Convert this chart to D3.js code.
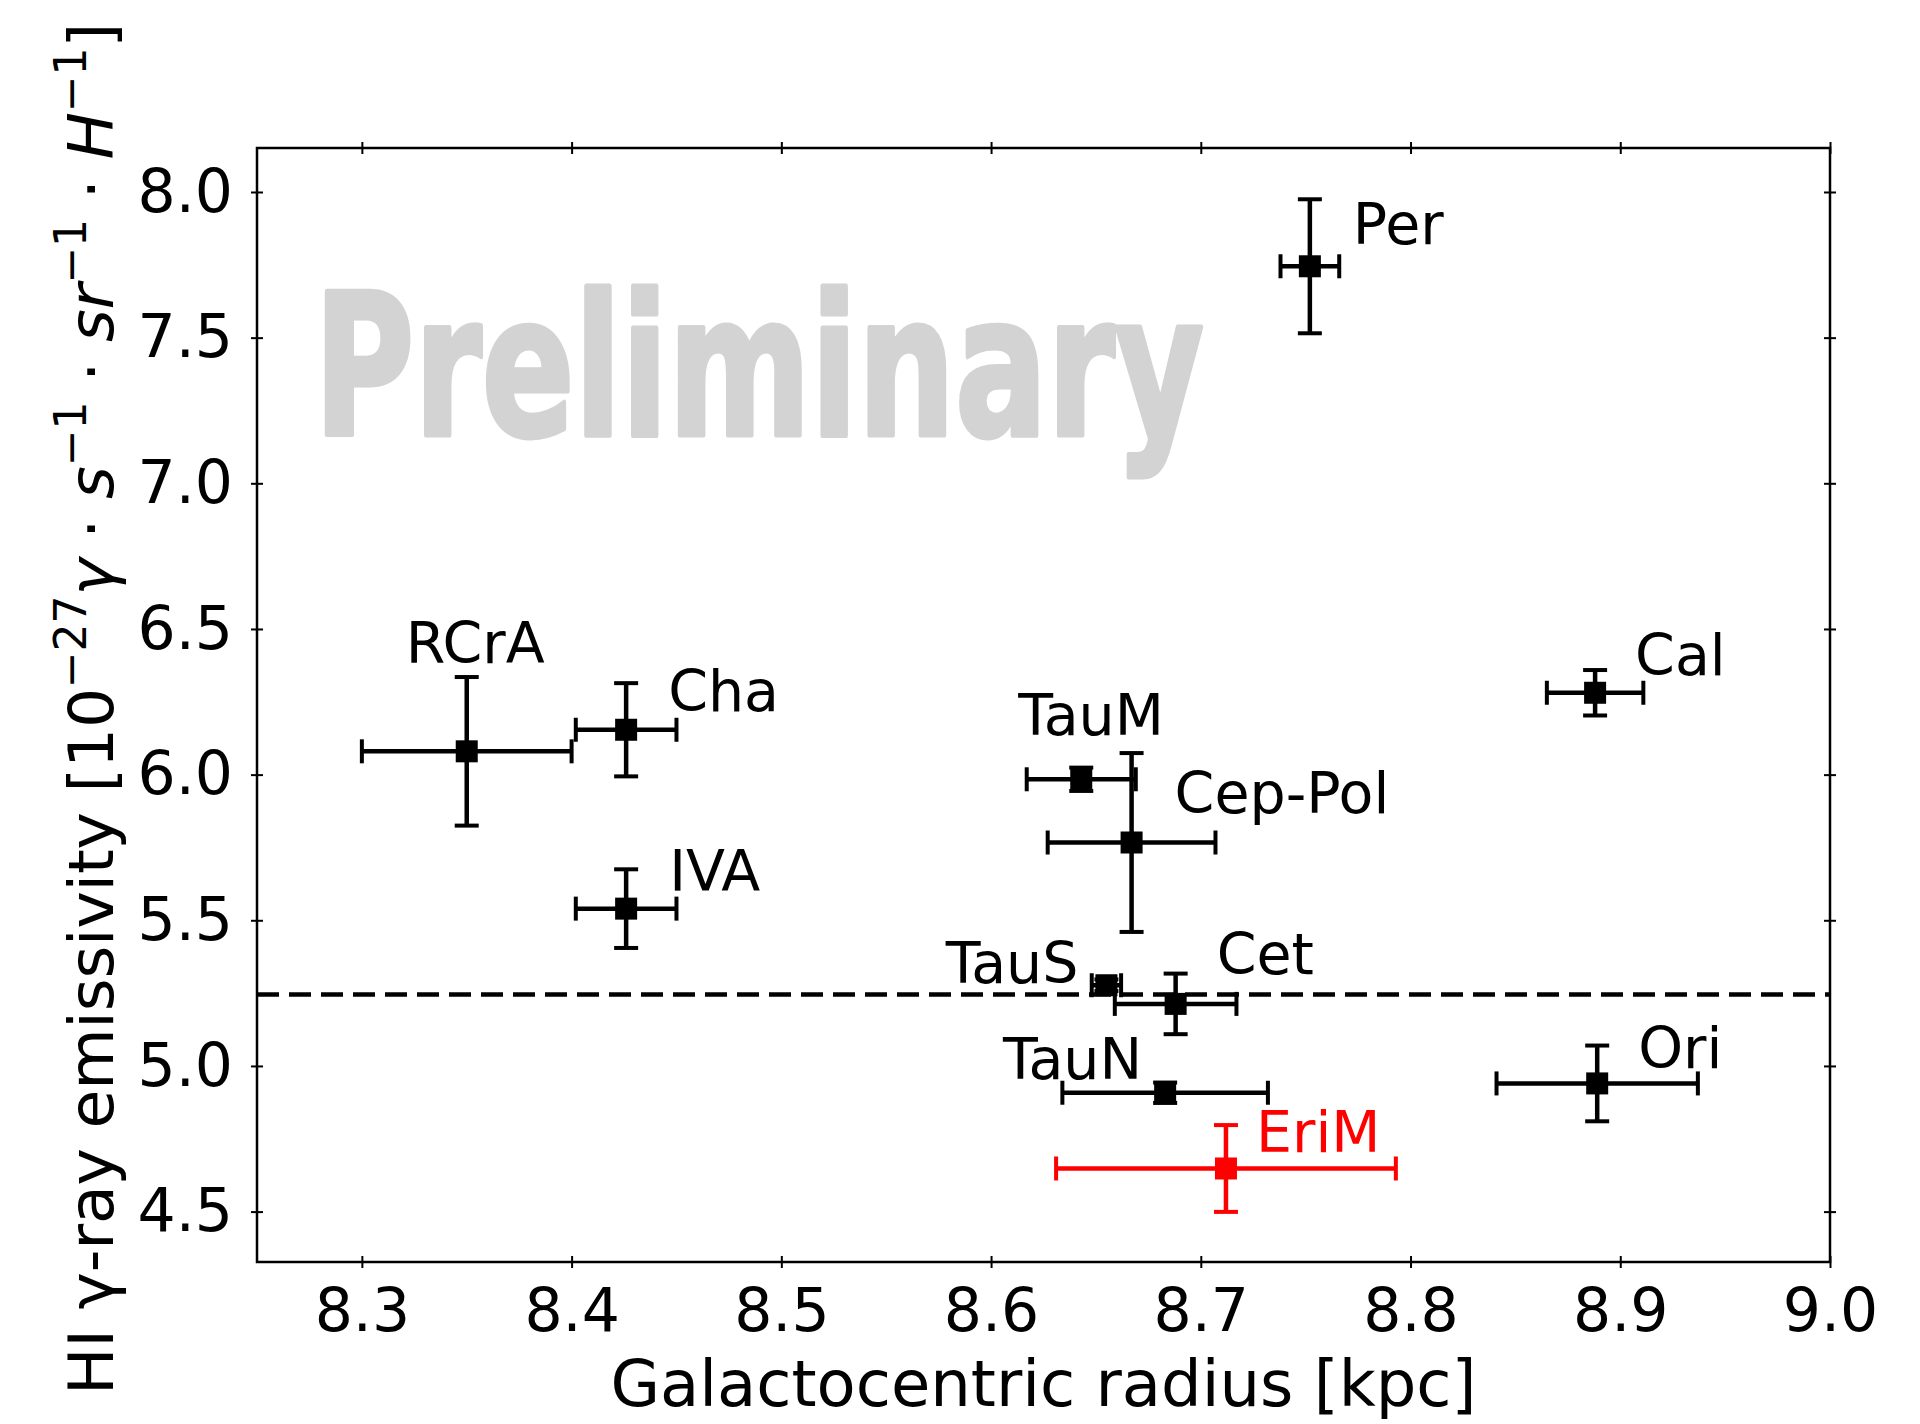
<!DOCTYPE html>
<html>
<head>
<meta charset="utf-8">
<script src="https://cdn.jsdelivr.net/npm/d3@7"></script>
<style>
  html, body { margin: 0; padding: 0; background: #fff; }
  svg { display: block; }
  text { font-family: "DejaVu Sans", sans-serif; }
</style>
</head>
<body>
<svg class="chart" width="1920" height="1424"></svg>
<script>
// cloud names and fitted HI emissivities
const clouds = ["Per", "RCrA", "Cha", "IVA", "TauM", "Cep-Pol", "Cal", "TauS", "Cet", "TauN", "Ori", "EriM"];
const radius = [8.752, 8.350, 8.426, 8.426, 8.643, 8.667, 8.888, 8.655, 8.688, 8.683, 8.889, 8.712];
const radiusErr = [0.014, 0.050, 0.024, 0.024, 0.026, 0.040, 0.023, 0.007, 0.029, 0.049, 0.048, 0.081];
const emissivity = [7.745, 6.080, 6.154, 5.540, 5.984, 5.767, 6.281, 5.277, 5.213, 4.908, 4.940, 4.648];
const emissivityErr = [0.230, 0.255, 0.160, 0.135, 0.040, 0.307, 0.078, 0.020, 0.104, 0.035, 0.130, 0.149];
const highlighted = ["EriM"];
const meanEmissivity = 5.245;

const xTicks = [8.3, 8.4, 8.5, 8.6, 8.7, 8.8, 8.9, 9.0];
const yTicks = [4.5, 5.0, 5.5, 6.0, 6.5, 7.0, 7.5, 8.0];
const xDomain = [8.25, 9.0];
const yDomain = [4.327, 8.151];

// label placement: [dx, dy, anchor] from the marker centre
const labelPlace = {
  "Per": [43, -22, "start"],
  "RCrA": [-61, -88, "start"],
  "Cha": [42, -19, "start"],
  "IVA": [43, -18, "start"],
  "TauM": [-63, -44, "start"],
  "Cep-Pol": [43, -30, "start"],
  "Cal": [40, -18, "start"],
  "TauS": [-28, -2, "end"],
  "Cet": [41, -30, "start"],
  "TauN": [-23, -14, "end"],
  "Ori": [41, -15, "start"],
  "EriM": [30, -16, "start"]
};

const plotLeft = 257, plotRight = 1830, plotTop = 148, plotBottom = 1262;

let x = d3.scaleLinear().domain(xDomain).range([plotLeft, plotRight]);
let y = d3.scaleLinear().domain(yDomain).range([plotBottom, plotTop]);

let svg = d3.select(".chart");

let data = clouds.map((name, i) => ({
  name: name,
  r: radius[i],
  rErr: radiusErr[i],
  e: emissivity[i],
  eErr: emissivityErr[i],
  color: highlighted.includes(name) ? "#ff0000" : "#000000"
}));

// watermark
svg
  .append("text")
  .attr("x", 314)
  .attr("y", 435)
  .attr("textLength", 890)
  .attr("lengthAdjust", "spacingAndGlyphs")
  .attr("font-size", 197)
  .attr("font-weight", "bold")
  .attr("fill", "#d3d3d3")
  .attr("stroke", "#d3d3d3")
  .attr("stroke-width", 5)
  .attr("stroke-linejoin", "round")
  .text("Preliminary");

// axes
function inout(g, horizontal) {
  g.select(".domain").remove();
  g.selectAll(".tick line")
    .attr("stroke", "#000")
    .attr("stroke-width", 2)
    .attr(horizontal ? "y1" : "x1", -6)
    .attr(horizontal ? "y2" : "x2", 6);
  g.selectAll(".tick text")
    .attr("font-family", "DejaVu Sans")
    .attr("font-size", 60)
    .attr("fill", "#000");
}

svg
  .append("g")
  .attr("transform", "translate(0," + plotBottom + ")")
  .call(d3.axisBottom(x).tickValues(xTicks).tickFormat(d3.format(".1f")).tickSizeOuter(0).tickPadding(20))
  .call((g) => inout(g, true));

svg
  .append("g")
  .attr("transform", "translate(0," + plotTop + ")")
  .call(d3.axisTop(x).tickValues(xTicks).tickFormat("").tickSizeOuter(0))
  .call((g) => inout(g, true));

svg
  .append("g")
  .attr("transform", "translate(" + plotLeft + ",0)")
  .call(d3.axisLeft(y).tickValues(yTicks).tickFormat(d3.format(".1f")).tickSizeOuter(0).tickPadding(18))
  .call((g) => inout(g, false));

svg
  .append("g")
  .attr("transform", "translate(" + plotRight + ",0)")
  .call(d3.axisRight(y).tickValues(yTicks).tickFormat("").tickSizeOuter(0))
  .call((g) => inout(g, false));

svg
  .append("rect")
  .attr("x", plotLeft)
  .attr("y", plotTop)
  .attr("width", plotRight - plotLeft)
  .attr("height", plotBottom - plotTop)
  .attr("fill", "none")
  .attr("stroke", "#000")
  .attr("stroke-width", 2.5);

// mean emissivity
svg
  .append("line")
  .attr("x1", plotLeft)
  .attr("x2", plotRight)
  .attr("y1", y(meanEmissivity))
  .attr("y2", y(meanEmissivity))
  .attr("stroke", "#000")
  .attr("stroke-width", 4.5)
  .attr("stroke-dasharray", "22,10");

// error bars
let cap = 12;
let pts = svg
  .selectAll(".pt")
  .data(data)
  .enter()
  .append("g")
  .attr("class", "pt")
  .attr("stroke", (d) => d.color)
  .attr("stroke-width", 4.5)
  .attr("fill", (d) => d.color);

pts.append("line")
  .attr("x1", (d) => x(d.r - d.rErr))
  .attr("x2", (d) => x(d.r + d.rErr))
  .attr("y1", (d) => y(d.e))
  .attr("y2", (d) => y(d.e));

pts.append("line")
  .attr("x1", (d) => x(d.r))
  .attr("x2", (d) => x(d.r))
  .attr("y1", (d) => y(d.e - d.eErr))
  .attr("y2", (d) => y(d.e + d.eErr));

[-1, 1].forEach((s) => {
  pts.append("line")
    .attr("x1", (d) => x(d.r + s * d.rErr))
    .attr("x2", (d) => x(d.r + s * d.rErr))
    .attr("y1", (d) => y(d.e) - cap)
    .attr("y2", (d) => y(d.e) + cap)
    .attr("stroke-width", 4);
  pts.append("line")
    .attr("x1", (d) => x(d.r) - cap)
    .attr("x2", (d) => x(d.r) + cap)
    .attr("y1", (d) => y(d.e + s * d.eErr))
    .attr("y2", (d) => y(d.e + s * d.eErr))
    .attr("stroke-width", 4);
});

pts.append("rect")
  .attr("x", (d) => x(d.r) - 11)
  .attr("y", (d) => y(d.e) - 11)
  .attr("width", 22)
  .attr("height", 22)
  .attr("stroke", "none");

svg
  .selectAll(".lbl")
  .data(data)
  .enter()
  .append("text")
  .attr("class", "lbl")
  .attr("x", (d) => x(d.r) + labelPlace[d.name][0])
  .attr("y", (d) => y(d.e) + labelPlace[d.name][1])
  .attr("text-anchor", (d) => labelPlace[d.name][2])
  .attr("font-size", 57)
  .attr("fill", (d) => d.color)
  .text((d) => d.name);

// axis titles
svg
  .append("text")
  .attr("x", (plotLeft + plotRight) / 2)
  .attr("y", 1406)
  .attr("text-anchor", "middle")
  .attr("font-size", 64)
  .attr("textLength", 866)
  .text("Galactocentric radius [kpc]");

const yLabelParts = [
  { t: "HI γ-ray emissivity [10" },
  { t: "−27", sup: true },
  { t: "γ", it: true },
  { t: " · " },
  { t: "s", it: true },
  { t: "−1", sup: true },
  { t: " · " },
  { t: "sr", it: true },
  { t: "−1", sup: true },
  { t: " · " },
  { t: "H", it: true },
  { t: "−1", sup: true },
  { t: "]" }
];

let ylab = svg
  .append("text")
  .attr("transform", "translate(113,709) rotate(-90)")
  .attr("text-anchor", "middle")
  .attr("font-size", 63)
  .attr("textLength", 1372)
  .style("white-space", "pre");

let raised = false;
yLabelParts.forEach((p) => {
  let ts = ylab.append("tspan").text(p.t);
  if (p.it) ts.attr("font-style", "italic");
  if (p.sup) {
    ts.attr("font-size", 44).attr("dy", -27);
    raised = true;
  } else if (raised) {
    ts.attr("dy", 27);
    raised = false;
  }
});
</script>
</body>
</html>
